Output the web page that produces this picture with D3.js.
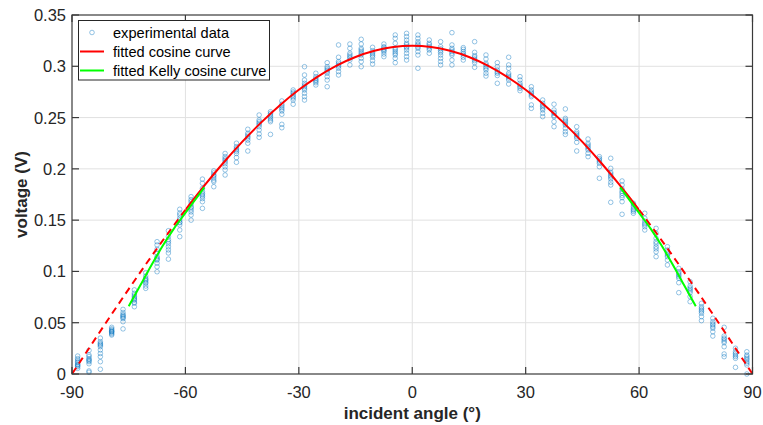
<!DOCTYPE html>
<html>
<head>
<meta charset="utf-8">
<script src="https://cdn.jsdelivr.net/npm/d3@7"></script>
<style>
  html, body { margin: 0; padding: 0; background: #fff; }
  svg { display: block; }
  text { font-family: "Liberation Sans", Arial, Helvetica, sans-serif; }
</style>
</head>
<body>
<svg id="chart" width="763" height="425"></svg>
<script>
// ---------- data ----------
const angles = [-88.5,-85.5,-82.5,-79.5,-76.5,-73.5,-70.5,-67.5,-64.5,-61.5,
  -58.5,-55.5,-52.5,-49.5,-46.5,-43.5,-40.5,-37.5,-34.5,-31.5,
  -28.5,-25.5,-22.5,-19.5,-16.5,-13.5,-10.5,-7.5,-4.5,-1.5,
  1.5,4.5,7.5,10.5,13.5,16.5,19.5,22.5,25.5,28.5,
  31.5,34.5,37.5,40.5,43.5,46.5,49.5,52.5,55.5,58.5,
  61.5,64.5,67.5,70.5,73.5,76.5,79.5,82.5,85.5,88.5];

const voltages = [
  [0.0175,0.0136,0.011,0.0095,0.0088,0.008,0.0071,0.0055,0.012,0.015],
  [0.023,0.0185,0.015,0.012,0.010,0.003,0.0017,0.017,0.013,0.014],
  [0.035,0.0315,0.029,0.0266,0.0234,0.020,0.0169,0.012,0.0046,0.028,0.030],
  [0.0455,0.043,0.042,0.041,0.040,0.039,0.038,0.044,0.0415],
  [0.063,0.060,0.058,0.057,0.055,0.054,0.051,0.044,0.056],
  [0.082,0.0787,0.0754,0.074,0.072,0.070,0.069,0.0656,0.077,0.073],
  [0.0988,0.0955,0.0933,0.092,0.091,0.0895,0.0884,0.0858,0.0835],
  [0.129,0.1258,0.1216,0.1177,0.1144,0.113,0.1111,0.108,0.1046,0.0997,0.112],
  [0.1397,0.134,0.129,0.124,0.121,0.118,0.112,0.131,0.127],
  [0.1606,0.157,0.155,0.152,0.150,0.1475,0.1453,0.1404,0.1339,0.148],
  [0.1729,0.170,0.168,0.1655,0.163,0.160,0.158,0.155,0.150,0.162],
  [0.190,0.186,0.181,0.178,0.1745,0.171,0.168,0.1615,0.176,0.173],
  [0.198,0.194,0.191,0.1875,0.1826,0.189,0.193,0.196],
  [0.215,0.212,0.2086,0.205,0.202,0.199,0.194,0.207,0.21],
  [0.225,0.2216,0.2184,0.215,0.211,0.2064,0.22,0.217],
  [0.2386,0.2347,0.2314,0.228,0.225,0.2174,0.233,0.23],
  [0.2525,0.2476,0.2444,0.2411,0.2379,0.234,0.2307,0.243,0.246],
  [0.2557,0.2525,0.2492,0.246,0.2336,0.251,0.254,0.2475],
  [0.2662,0.263,0.2597,0.2564,0.2532,0.2434,0.2401,0.2615,0.258],
  [0.2769,0.2737,0.2704,0.2671,0.263,0.272,0.275,0.269],
  [0.2996,0.2915,0.2866,0.2834,0.2801,0.2769,0.2737,0.2704,0.2671,0.2785,0.2815],
  [0.2932,0.2899,0.2866,0.284,0.2818,0.288,0.2855],
  [0.3035,0.2996,0.2964,0.2932,0.2899,0.2866,0.2801,0.295,0.298],
  [0.3208,0.3088,0.3046,0.3013,0.2981,0.2948,0.2915,0.303,0.300],
  [0.3217,0.3175,0.3127,0.3094,0.3061,0.3013,0.311,0.308],
  [0.3263,0.3217,0.3175,0.3143,0.311,0.3078,0.3046,0.2996,0.3125,0.316],
  [0.3185,0.3152,0.312,0.3088,0.3055,0.3022,0.3135,0.3105],
  [0.3217,0.3191,0.3166,0.3143,0.312,0.3094,0.318,0.3155],
  [0.3305,0.3272,0.3224,0.3175,0.3143,0.311,0.3078,0.3035,0.316,0.3125],
  [0.3321,0.3289,0.3256,0.3224,0.3191,0.3159,0.3127,0.3094,0.3061,0.321,0.318],
  [0.3305,0.3272,0.324,0.3208,0.3175,0.3143,0.311,0.2981,0.322,0.319],
  [0.3256,0.3224,0.3191,0.3159,0.3127,0.321,0.3175],
  [0.324,0.3191,0.3152,0.311,0.3078,0.3046,0.3013,0.317,0.3135],
  [0.3328,0.3208,0.3175,0.3143,0.311,0.3061,0.3013,0.3125,0.316],
  [0.3182,0.3143,0.311,0.3088,0.3061,0.3125,0.3165],
  [0.324,0.3136,0.3104,0.3071,0.3035,0.299,0.309,0.3055],
  [0.311,0.3071,0.3029,0.2996,0.2964,0.2932,0.2905,0.3015,0.298],
  [0.3035,0.2996,0.2964,0.2932,0.2834,0.291,0.2945],
  [0.3088,0.3013,0.2981,0.2932,0.2899,0.2866,0.2827,0.2885,0.2915],
  [0.2899,0.2866,0.2834,0.2801,0.2762,0.2785,0.2815],
  [0.2801,0.2769,0.2737,0.2704,0.2623,0.259,0.275,0.272],
  [0.2671,0.2639,0.2606,0.2574,0.2541,0.2509,0.262,0.259],
  [0.263,0.2574,0.2541,0.2509,0.246,0.2411,0.252,0.255],
  [0.2584,0.2492,0.246,0.2428,0.2395,0.2362,0.2336,0.244,0.2475],
  [0.2411,0.2362,0.233,0.2298,0.2259,0.2174,0.2345,0.2315],
  [0.2291,0.2249,0.2216,0.2184,0.2151,0.2119,0.220,0.2233],
  [0.2119,0.2086,0.2054,0.2021,0.1908,0.207,0.210],
  [0.2103,0.2005,0.1966,0.1933,0.1901,0.1869,0.1843,0.1674,0.195,0.192],
  [0.1882,0.1843,0.1804,0.1762,0.1719,0.168,0.1557,0.178,0.174],
  [0.1664,0.1631,0.1599,0.1567,0.161,0.1585,0.165],
  [0.1567,0.1518,0.1469,0.1436,0.1404,0.149,0.1455],
  [0.142,0.1372,0.1323,0.129,0.1241,0.1192,0.1144,0.127,0.122],
  [0.1241,0.1209,0.1177,0.1144,0.1111,0.1063,0.116,0.119],
  [0.103,0.0997,0.0965,0.0933,0.089,0.0793,0.095,0.098],
  [0.090,0.0858,0.0826,0.0793,0.0754,0.0705,0.084,0.081],
  [0.0689,0.0656,0.0624,0.0592,0.0559,0.052,0.061,0.064],
  [0.0543,0.051,0.0478,0.0446,0.0412,0.037,0.046,0.049],
  [0.0455,0.037,0.0338,0.0305,0.0266,0.0195,0.0169,0.032,0.035],
  [0.0251,0.0217,0.0185,0.0153,0.0065,0.020,0.017],
  [0.0217,0.0185,0.0153,0.012,0.0088,0.000,0.014,0.017,0.0105]
];

// fitted cosine curve
const cosAngles = [-90,-85,-80,-75,-70,-65,-60,-55,-50,-45,-40,-35,-30,-25,-20,-15,-10,-5,0,
  5,10,15,20,25,30,35,40,45,50,55,60,65,70,75,80,85,90];
const cosValues = [0,0.0279,0.0556,0.0828,0.1094,0.1352,0.160,0.1836,0.2057,0.2263,0.2451,0.2621,0.2771,0.290,0.3007,0.3091,0.3151,0.3188,0.320,
  0.3188,0.3151,0.3091,0.3007,0.290,0.2771,0.2621,0.2451,0.2263,0.2057,0.1836,0.160,0.1352,0.1094,0.0828,0.0556,0.0279,0];
const cosSolidRange = [-60, 60];

// fitted Kelly cosine curve (two branches)
const kellyLeftAngles = [-75,-72,-69,-66,-63,-60,-57,-55];
const kellyLeftValues = [0.066,0.086,0.106,0.125,0.142,0.157,0.172,0.182];
const kellyRightAngles = [55,57,60,63,66,69,72,75];
const kellyRightValues = [0.182,0.172,0.157,0.142,0.125,0.106,0.086,0.066];

const xTicks = [-90,-60,-30,0,30,60,90];
const yTicks = [0,0.05,0.1,0.15,0.2,0.25,0.3,0.35];
const legendLabels = ["experimental data","fitted cosine curve","fitted Kelly cosine curve"];
const axisTitles = {x: "incident angle (°)", y: "voltage (V)"};

// ---------- drawing ----------
const svg = d3.select("#chart");
const L = 72, R = 752.5, T = 15, B = 374;
const x = d3.scaleLinear().domain([-90, 90]).range([L, R]);
const y = d3.scaleLinear().domain([0, 0.35]).range([B, T]);

const axisColor = "#3a3a3a";
const gridColor = "#e1e1e1";

// grid
const grid = svg.append("g");
grid.selectAll(".gx").data(xTicks.slice(1, -1)).join("line")
  .attr("x1", d => x(d)).attr("x2", d => x(d)).attr("y1", T).attr("y2", B)
  .attr("stroke", gridColor).attr("stroke-width", 1);
grid.selectAll(".gy").data(yTicks.slice(1, -1)).join("line")
  .attr("y1", d => y(d)).attr("y2", d => y(d)).attr("x1", L).attr("x2", R)
  .attr("stroke", gridColor).attr("stroke-width", 1);

// data points
const pts = [];
angles.forEach((a, i) => voltages[i].forEach(v => pts.push([a, v])));
svg.append("g").selectAll("circle").data(pts).join("circle")
  .attr("cx", d => x(d[0])).attr("cy", d => y(d[1])).attr("r", 2.3)
  .attr("fill", "none").attr("stroke", "#0072BD").attr("stroke-opacity", 0.6)
  .attr("stroke-width", 0.7);

// cosine curve
const cosPts = cosAngles.map((a, i) => [a, cosValues[i]]);
const line = d3.line().x(d => x(d[0])).y(d => y(d[1])).curve(d3.curveNatural);
const clipDef = svg.append("defs");
clipDef.append("clipPath").attr("id", "solidClip").append("rect")
  .attr("x", x(cosSolidRange[0])).attr("y", 0)
  .attr("width", x(cosSolidRange[1]) - x(cosSolidRange[0])).attr("height", 425);

svg.append("path").datum(cosPts).attr("d", line)
  .attr("fill", "none").attr("stroke", "#ff0000").attr("stroke-width", 2)
  .attr("clip-path", "url(#solidClip)");
svg.append("path").datum(cosPts.filter(d => d[0] <= cosSolidRange[0]).slice().reverse())
  .attr("d", line)
  .attr("fill", "none").attr("stroke", "#ff0000").attr("stroke-width", 2)
  .attr("stroke-dasharray", "7,5");
svg.append("path").datum(cosPts.filter(d => d[0] >= cosSolidRange[1]))
  .attr("d", line)
  .attr("fill", "none").attr("stroke", "#ff0000").attr("stroke-width", 2)
  .attr("stroke-dasharray", "7,5");

// Kelly curve
const kLine = d3.line().x(d => x(d[0])).y(d => y(d[1])).curve(d3.curveMonotoneX);
[[kellyLeftAngles, kellyLeftValues], [kellyRightAngles, kellyRightValues]].forEach(([as, vs]) => {
  svg.append("path").datum(as.map((a, i) => [a, vs[i]])).attr("d", kLine)
    .attr("fill", "none").attr("stroke", "#00ff00").attr("stroke-width", 2);
});

// box
svg.append("rect").attr("x", L).attr("y", T).attr("width", R - L).attr("height", B - T)
  .attr("fill", "none").attr("stroke", axisColor).attr("stroke-width", 1.2);

// ticks (inward)
const tl = 7;
const tg = svg.append("g").attr("stroke", axisColor).attr("stroke-width", 1.2);
xTicks.forEach(t => {
  tg.append("line").attr("x1", x(t)).attr("x2", x(t)).attr("y1", B).attr("y2", B - tl);
  tg.append("line").attr("x1", x(t)).attr("x2", x(t)).attr("y1", T).attr("y2", T + tl);
});
yTicks.forEach(t => {
  tg.append("line").attr("y1", y(t)).attr("y2", y(t)).attr("x1", L).attr("x2", L + tl);
  tg.append("line").attr("y1", y(t)).attr("y2", y(t)).attr("x1", R).attr("x2", R - tl);
});

// tick labels
svg.append("g").selectAll("text").data(xTicks).join("text")
  .attr("x", d => x(d)).attr("y", B + 24).attr("text-anchor", "middle")
  .attr("font-size", 16.5).attr("fill", "#262626").text(d => String(d));
svg.append("g").selectAll("text").data(yTicks).join("text")
  .attr("x", L - 6).attr("y", d => y(d) + 6).attr("text-anchor", "end")
  .attr("font-size", 16.5).attr("fill", "#262626").text(d => String(+d.toFixed(2)));

// axis titles
svg.append("text").attr("x", (L + R) / 2).attr("y", 419).attr("text-anchor", "middle")
  .attr("font-size", 17).attr("font-weight", "bold").attr("fill", "#262626").text(axisTitles.x);
svg.append("text").attr("transform", `translate(27,${(T + B) / 2}) rotate(-90)`)
  .attr("text-anchor", "middle").attr("font-size", 17).attr("font-weight", "bold")
  .attr("fill", "#262626").text(axisTitles.y);

// legend
const lg = svg.append("g");
lg.append("rect").attr("x", 78.5).attr("y", 20.5).attr("width", 191).attr("height", 59.5)
  .attr("fill", "#fff").attr("stroke", "#262626").attr("stroke-width", 1);
const rowY = [32.5, 51.5, 70.5];
lg.append("circle").attr("cx", 92).attr("cy", rowY[0]).attr("r", 2.3)
  .attr("fill", "none").attr("stroke", "#0072BD").attr("stroke-opacity", 0.6).attr("stroke-width", 0.7);
lg.append("line").attr("x1", 80).attr("x2", 104).attr("y1", rowY[1]).attr("y2", rowY[1])
  .attr("stroke", "#ff0000").attr("stroke-width", 2);
lg.append("line").attr("x1", 80).attr("x2", 104).attr("y1", rowY[2]).attr("y2", rowY[2])
  .attr("stroke", "#00ff00").attr("stroke-width", 2);
lg.selectAll("text.lt").data(legendLabels).join("text")
  .attr("x", 113).attr("y", (d, i) => rowY[i] + 5).attr("font-size", 14.6)
  .attr("fill", "#000").text(d => d);
</script>
</body>
</html>
